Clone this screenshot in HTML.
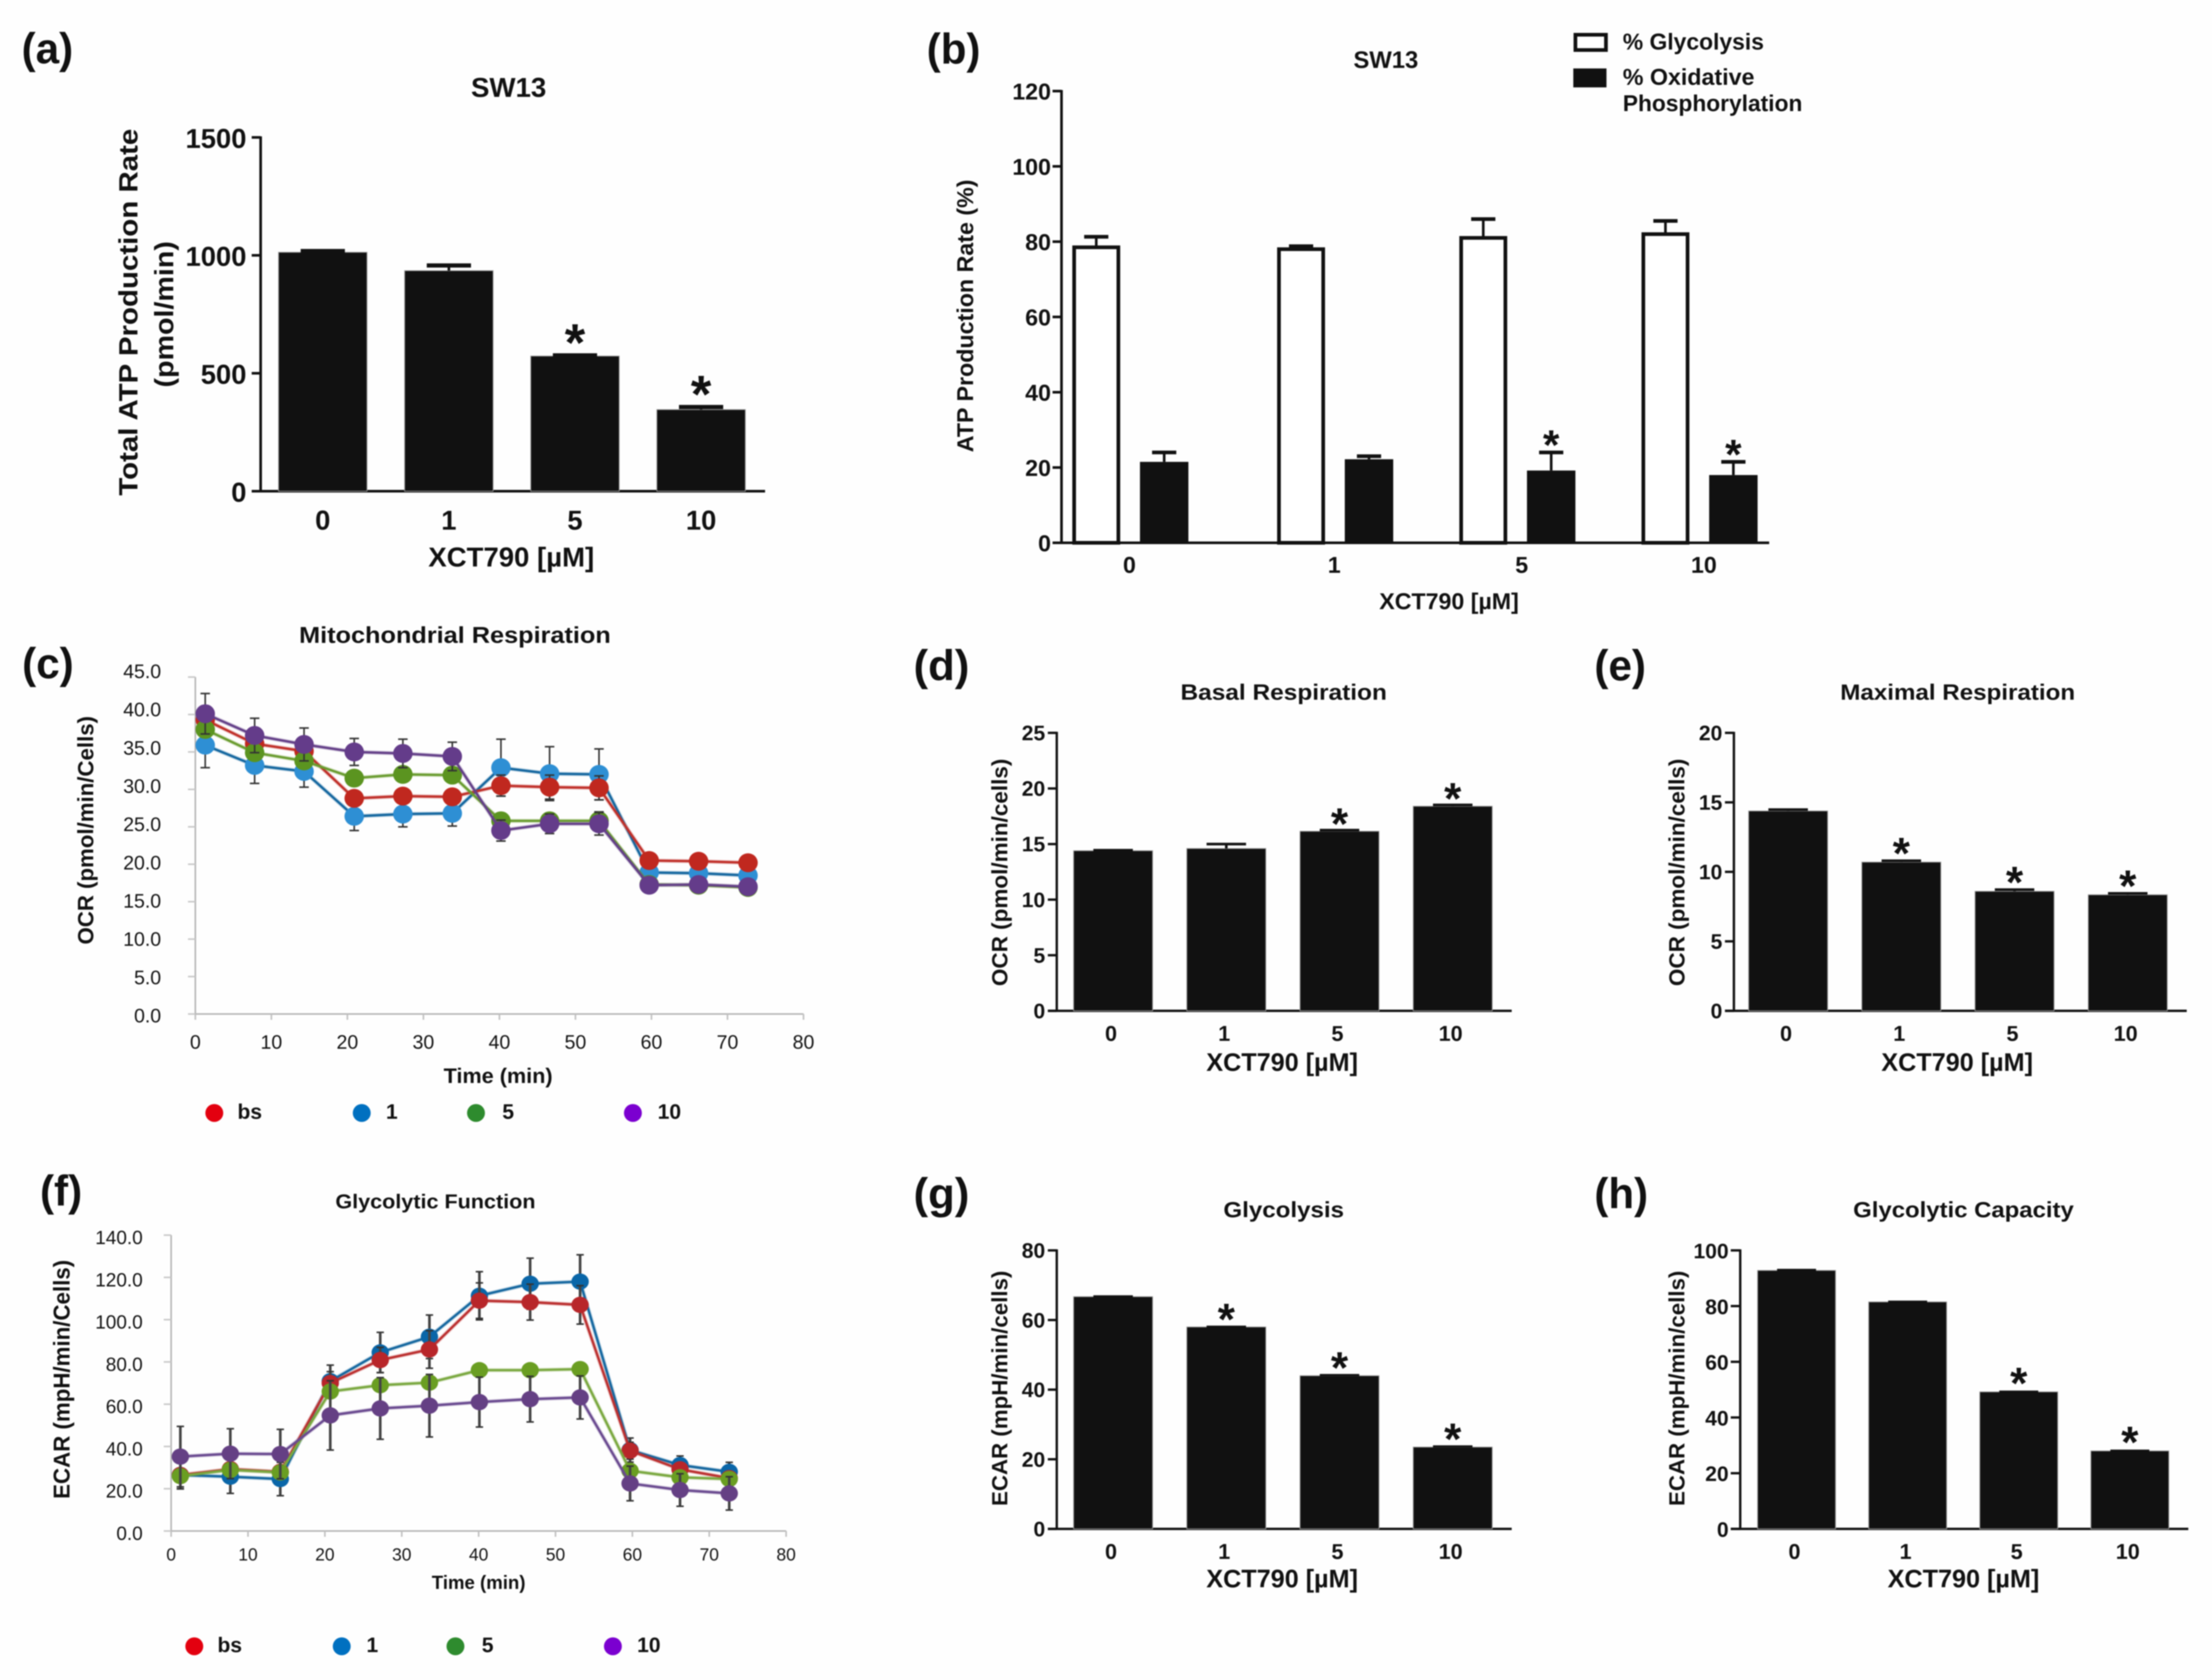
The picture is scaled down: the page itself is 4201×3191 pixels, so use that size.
<!DOCTYPE html>
<html>
<head>
<meta charset="utf-8">
<title>XCT790 SW13 metabolism panels</title>
<style>
html,body{margin:0;padding:0;background:#fff;width:4201px;height:3191px;overflow:hidden}
svg{display:block;filter:blur(1.1px)}
text{font-family:"Liberation Sans",Arial,sans-serif;fill:#111}
</style>
</head>
<body>
<svg id="figure" xmlns="http://www.w3.org/2000/svg" width="4201" height="3191" viewBox="0 0 4201 3191">
<rect width="4201" height="3191" fill="#fefefe"/>
<g id="panel-a"></g>
<g id="panel-b"></g>
<g id="panel-c"></g>
<g id="panel-d"></g>
<g id="panel-e"></g>
<g id="panel-f"></g>
<g id="panel-g"></g>
<g id="panel-h"></g>
</svg>
<script>
// ---------- shared categories ----------
const doseCategories = ['0','1','5','10'];

// ---------- panel a ----------
const aTicks = [0,500,1000,1500];
const aValues = [1013,935,573,346];
const aErrors = [1018,957,576,357];
const aSignificant = [false,false,true,true];

// ---------- panel b ----------
const bTicks = [0,20,40,60,80,100,120];
const bGlycolysis = [78.5,78,81,82];
const bGlycolysisErr = [81.3,78.8,86,85.5];
const bOxphos = [21.5,22.2,19.2,18];
const bOxphosErr = [24,23,24,21.5];
const bSignificant = [false,false,true,true];

// ---------- panel d ----------
const dTicks = [0,5,10,15,20,25];
const dValues = [14.4,14.6,16.15,18.4];
const dErrors = [14.45,15,16.25,18.52];
const dSignificant = [false,false,true,true];

// ---------- panel e ----------
const eTicks = [0,5,10,15,20];
const eValues = [14.38,10.7,8.6,8.35];
const eErrors = [14.48,10.8,8.72,8.45];
const eSignificant = [false,true,true,true];

// ---------- panel g ----------
const gTicks = [0,20,40,60,80];
const gValues = [66.7,58,44,23.5];
const gErrors = [66.8,58.1,44.2,23.7];
const gSignificant = [false,true,true,true];

// ---------- panel h ----------
const hTicks = [0,20,40,60,80,100];
const hValues = [92.8,81.5,49.2,28];
const hErrors = [93,81.6,49.3,28.1];
const hSignificant = [false,false,true,true];

// ---------- panel c ----------
const cTime = [1.3,7.8,14.3,20.9,27.3,33.8,40.2,46.6,53.1,59.7,66.2,72.7];
const cXTicks = [0,10,20,30,40,50,60,70,80];
const cYTicks = [0,5,10,15,20,25,30,35,40,45];
const cBs = [39.3,36.1,35.1,28.8,29.1,29,30.5,30.3,30.2,20.5,20.4,20.2];
const cBsErr = [0.6,0.6,0.6,0.6,0.6,0.6,1.4,1.6,1.6,0.4,0.4,0.4];
const cOne = [35.9,33.2,32.4,26.4,26.7,26.8,32.9,32.1,32,18.9,18.8,18.5];
const cOneErr = [3,2.4,2.1,1.9,1.7,1.7,3.8,3.6,3.4,0.5,0.5,0.5];
const cFive = [38,34.9,33.8,31.5,32,31.9,25.8,25.8,25.8,17.3,17.2,16.9];
const cFiveErr = [0.6,0.6,0.6,0.6,0.6,0.6,0.8,0.8,1.2,0.4,0.4,0.4];
const cTen = [40.1,37.2,36,35,34.8,34.4,24.5,25.4,25.4,17.2,17.3,17];
const cTenErr = [2.7,2.3,2.2,1.8,1.9,1.9,1.4,1.3,1.5,0.5,0.5,0.5];

// ---------- panel f ----------
const fTime = [1.2,7.7,14.2,20.7,27.2,33.6,40.1,46.7,53.2,59.7,66.2,72.6];
const fXTicks = [0,10,20,30,40,50,60,70,80];
const fYTicks = [0,20,40,60,80,100,120,140];
const fBs = [26.5,29.3,28,70,80.9,85.9,109,108.3,107,38,29.2,25];
const fBsErr = [6.5,3,3,5.4,6,8.9,8.4,8.5,9.1,4,3,2];
const fOne = [26.5,25.7,24.6,70.9,84.5,91.9,111.3,117,118,38.3,31.2,28];
const fOneErr = [6.6,7.9,7.9,7.6,9.5,10.3,11.4,12.1,12.7,5.7,4.3,4.5];
const fFive = [26,28.9,27.7,66,69,70.2,76.1,76.1,76.6,28.5,25.4,24.6];
const fFiveErr = [2,2,2,2,2,2,2,2,2,2,2,2];
const fTen = [35.2,36.6,36.4,54.7,58,59.3,61,62.4,63.2,22.5,19.4,17.8];
const fTenErr = [14.3,11.8,11.7,16.4,14.6,14.8,11.8,10.8,10.2,8.2,7.7,7.9];

const seriesLabels = ['bs','1','5','10'];

// ---------- drawing helpers ----------
const NS = 'http://www.w3.org/2000/svg';
function make(parent, tag, attrs) {
  const n = document.createElementNS(NS, tag);
  for (const k in attrs) n.setAttribute(k, attrs[k]);
  parent.appendChild(n);
  return n;
}
function label(parent, str, x, y, size, name, o) {
  o = o || {};
  const a = {x:x, y:y, 'font-size':size, 'font-weight':o.weight||'bold', 'text-anchor':o.anchor||'middle'};
  if (o.len) { a.textLength = o.len; a.lengthAdjust = 'spacingAndGlyphs'; }
  if (o.rot) a.transform = 'rotate(-90 ' + x + ' ' + y + ')';
  const t = make(parent, 'text', a);
  t.textContent = str;
  
  
  return t;
}
function vline(parent, x, y1, y2, w, color, name) {
  const l = make(parent, 'line', {x1:x, x2:x, y1:y1, y2:y2, stroke:color, 'stroke-width':w});
  
  
  return l;
}
function hline(parent, y, x1, x2, w, color, name) {
  const l = make(parent, 'line', {x1:x1, x2:x2, y1:y, y2:y, stroke:color, 'stroke-width':w});
  
  
  return l;
}
function star(parent, cx, cy, size) {
  const t = make(parent, 'text', {x:cx, y:cy + size*0.45, 'font-size':size, 'font-weight':'bold', 'text-anchor':'middle'});
  t.textContent = '*';
  
  
}

// value axis shared by all bar panels
function valueAxis(g, c) {
  const y = v => c.y0 - v / c.max * (c.y0 - c.yTop);
  vline(g, c.axisX, c.yTop - 2, c.y0 + 2, c.axisW, '#111', 'y-axis-line');
  hline(g, c.y0, c.xLeft, c.xRight, c.axisW, '#111', 'x-axis-line');
  c.ticks.forEach(v => {
    hline(g, y(v), c.xLeft, c.axisX, c.axisW, '#111', 'y-tick');
    label(g, String(v), c.labelRight, y(v) + c.labelDy, c.tickSize, 'y-tick-label', {anchor:'end'});
  });
  return y;
}

function errorBar(g, cx, yVal, yErr, capW, w, capH) {
  vline(g, cx, yVal, yErr, w, '#111', 'error-bar');
  hline(g, yErr, cx - capW/2, cx + capW/2, capH, '#111', 'error-cap');
}

function barPanel(g, c) {
  const y = valueAxis(g, c);
  c.cats.forEach((cat, i) => {
    const left = c.barLeft + i * c.barStep;
    const cx = left + c.barW / 2;
    const r = make(g, 'rect', {x:left, y:y(c.vals[i]), width:c.barW, height:c.y0 - y(c.vals[i]), fill:'#111', stroke:'#999', 'stroke-width':1.5});
    
    
    errorBar(g, cx, y(c.vals[i]), y(c.errs[i]), c.barW / 2, 5, c.capH);
    if (c.sig[i]) star(g, cx, y(c.errs[i]) - c.starGap, c.starSize);
    label(g, cat, cx + (c.catShift || 0), c.catBase, c.catSize || c.tickSize, 'x-tick-label');
  });
  label(g, c.title, c.titleX, c.titleBase, c.titleSize, 'chart-title', {len:c.titleLen});
  label(g, 'XCT790 [\u00B5M]', c.xTitleX, c.xTitleBase, c.xTitleSize, 'x-axis-title', {len:c.xTitleLen});
  c.yTitles.forEach(t => {
    label(g, t.text, t.x, t.y, t.size, 'y-axis-title', {rot:true, len:t.len});
  });
  label(g, c.tag, c.tagX, c.tagBase, 82, 'panel-letter', {anchor:'start', len:c.tagLen});
}

function linePanel(g, c) {
  const x = v => c.x0 + v / c.xMax * (c.x1 - c.x0);
  const y = v => c.y0 - v / c.yMax * (c.y0 - c.yTop);
  vline(g, c.x0, c.yTop, c.y0, 3, '#b5b5b5', 'y-axis-line');
  hline(g, c.y0, c.x0, c.x1, 3, '#b5b5b5', 'x-axis-line');
  c.yTicks.forEach(v => {
    hline(g, y(v), c.x0 - 14, c.x0, 3, '#c8c8c8', 'y-tick');
    const drift = c.driftTop + (c.driftBottom - c.driftTop) * (1 - v / c.yMax);
    label(g, v.toFixed(1), c.labelRight, y(v) + drift, c.tickSize, 'y-tick-label', {anchor:'end', weight:'normal'});
  });
  c.xTicks.forEach(v => {
    vline(g, x(v), c.y0, c.y0 + 11, 3, '#c0c0c0', 'x-tick');
    label(g, String(v), x(v), c.xLabelBase, c.xTickSize, 'x-tick-label', {weight:'normal'});
  });
  c.series.forEach(s => {
    const sg = make(g, 'g', {});
    
    
    c.time.forEach((t, i) => {
      vline(sg, x(t), y(s.vals[i] - s.errs[i]), y(s.vals[i] + s.errs[i]), c.whiskW, c.whiskColor, 'error-bar');
      hline(sg, y(s.vals[i] + s.errs[i]), x(t) - c.capW/2, x(t) + c.capW/2, 3, '#333', 'error-cap');
      hline(sg, y(s.vals[i] - s.errs[i]), x(t) - c.capW/2, x(t) + c.capW/2, 3, '#333', 'error-cap');
    });
    const pts = c.time.map((t, i) => x(t) + ',' + y(s.vals[i])).join(' ');
    const halo = make(sg, 'polyline', {points:pts, fill:'none', stroke:s.line, 'stroke-opacity':0.25, 'stroke-width':8});
    
    
    const pl = make(sg, 'polyline', {points:pts, fill:'none', stroke:s.line, 'stroke-width':4.5});
    
    
    c.time.forEach((t, i) => {
      const m = make(sg, 'ellipse', {cx:x(t), cy:y(s.vals[i]), rx:c.rx, ry:c.ry, fill:s.marker});
      
      
    });
  });
  label(g, c.title, c.titleX, c.titleBase, c.titleSize, 'chart-title', {len:c.titleLen});
  label(g, 'Time (min)', c.xTitleX, c.xTitleBase, c.xTitleSize, 'x-axis-title', {len:c.xTitleLen});
  label(g, c.yTitle, c.yTitleX, c.yTitleY, c.yTitleSize, 'y-axis-title', {rot:true, len:c.yTitleLen});
  label(g, c.tag, c.tagX, c.tagBase, 82, 'panel-letter', {anchor:'start', len:c.tagLen});
  const legendColors = ['#e3000f','#0070c0','#2e8b2e','#7b00d0'];
  seriesLabels.forEach((name, i) => {
    const d = make(g, 'ellipse', {cx:c.legendDot[i], cy:c.legendY, rx:17, ry:17, fill:legendColors[i]});
    
    
    label(g, name, c.legendText[i], c.legendBase, 40, 'legend-label', {anchor:'start'});
  });
}

// ---------- panel a ----------
barPanel(document.getElementById('panel-a'), {
  tag:'(a)', tagX:41, tagBase:120, tagLen:98,
  cats:doseCategories, vals:aValues, errs:aErrors, sig:aSignificant, ticks:aTicks, max:1500,
  y0:933, yTop:261, axisX:495, xLeft:478, xRight:1453, axisW:5, labelRight:468, labelDy:20, tickSize:52,
  barLeft:529, barStep:239.5, barW:168, catBase:1006, starGap:35, starSize:100, capH:8,
  title:'SW13', titleX:966, titleBase:184, titleSize:52, titleLen:143,
  xTitleX:971, xTitleBase:1076, xTitleSize:52, xTitleLen:315,
  yTitles:[
    {text:'Total ATP Production Rate', x:261, y:593, size:50, len:697},
    {text:'(pmol/min)', x:329, y:597, size:50, len:278}
  ]
});

// ---------- panel b ----------
(function () {
  const g = document.getElementById('panel-b');
  const c = {axisX:2016, y0:1031, yTop:173, max:120, xLeft:1999, xRight:3360, axisW:5, labelRight:1996, labelDy:16, tickSize:44, ticks:bTicks};
  const y = valueAxis(g, c);
  const groupLeft = i => 2037 + 346 * i + (i > 0 ? 43 : 0);
  doseCategories.forEach((cat, i) => {
    const wx = groupLeft(i);
    const bx = wx + 128;
    const wr = make(g, 'rect', {x:wx + 3, y:y(bGlycolysis[i]), width:84, height:c.y0 - y(bGlycolysis[i]), fill:'#fff', stroke:'#111', 'stroke-width':7});
    
    
    errorBar(g, wx + 45, y(bGlycolysis[i]), y(bGlycolysisErr[i]), 46, 5, 7);
    const br = make(g, 'rect', {x:bx, y:y(bOxphos[i]), width:92, height:c.y0 - y(bOxphos[i]), fill:'#111'});
    
    
    errorBar(g, bx + 46, y(bOxphos[i]), y(bOxphosErr[i]), 46, 5, 7);
    if (bSignificant[i]) star(g, bx + 46, y(bOxphosErr[i]) - 23, 80);
    const labelShift = i >= 2 ? 10 : 0;
    label(g, cat, wx + 108 + labelShift, 1088, 44, 'x-tick-label');
  });
  label(g, '(b)', 1760, 121, 82, 'panel-letter', {anchor:'start', len:102});
  label(g, 'SW13', 2632, 129, 45, 'chart-title', {len:123});
  label(g, 'XCT790 [\u00B5M]', 2752, 1157, 44, 'x-axis-title', {len:265});
  label(g, 'ATP Production Rate (%)', 1848, 600, 44, 'y-axis-title', {rot:true, len:518});
  const lw = make(g, 'rect', {x:2992, y:66, width:58, height:29, fill:'#fff', stroke:'#111', 'stroke-width':7});
  
  
  const lb = make(g, 'rect', {x:2988, y:130, width:63, height:36, fill:'#111'});
  
  
  label(g, '% Glycolysis', 3082, 94, 44, 'legend-label', {anchor:'start', len:268});
  label(g, '% Oxidative', 3082, 161, 44, 'legend-label', {anchor:'start', len:250});
  label(g, 'Phosphorylation', 3082, 211, 44, 'legend-label', {anchor:'start', len:341});
})();

// ---------- panel c ----------
linePanel(document.getElementById('panel-c'), {
  tag:'(c)', tagX:42, tagBase:1288, tagLen:98,
  time:cTime, xTicks:cXTicks, yTicks:cYTicks, xMax:80, yMax:45,
  x0:371, x1:1526, y0:1926, yTop:1286,
  labelRight:306, tickSize:37, xTickSize:37, driftTop:2, driftBottom:16, xLabelBase:1992,
  rx:18.5, ry:18, whiskW:3, whiskColor:'#333', capW:18,
  series:[
    {name:'1', vals:cOne, errs:cOneErr, line:'#15679f', marker:'#2e8fd4'},
    {name:'bs', vals:cBs, errs:cBsErr, line:'#c0302a', marker:'#c0281f'},
    {name:'5', vals:cFive, errs:cFiveErr, line:'#6a9c30', marker:'#5b9420'},
    {name:'10', vals:cTen, errs:cTenErr, line:'#644088', marker:'#643c8a'}
  ],
  title:'Mitochondrial Respiration', titleX:864, titleBase:1221, titleSize:44, titleLen:592,
  xTitleX:946, xTitleBase:2057, xTitleSize:40, xTitleLen:207,
  yTitle:'OCR (pmol/min/Cells)', yTitleX:177, yTitleY:1577, yTitleSize:42, yTitleLen:434,
  legendDot:[407,687,904,1202], legendText:[451,733,954,1249], legendY:2114, legendBase:2125
});

// ---------- panel f ----------
linePanel(document.getElementById('panel-f'), {
  tag:'(f)', tagX:76, tagBase:2290, tagLen:80,
  time:fTime, xTicks:fXTicks, yTicks:fYTicks, xMax:80, yMax:140,
  x0:325, x1:1493, y0:2908, yTop:2346,
  labelRight:271, tickSize:36, xTickSize:33, driftTop:17, driftBottom:17, xLabelBase:2964,
  rx:16.5, ry:15.5, whiskW:5, whiskColor:'#444', capW:14,
  series:[
    {name:'1', vals:fOne, errs:fOneErr, line:'#15679f', marker:'#0a66a8'},
    {name:'bs', vals:fBs, errs:fBsErr, line:'#bb3030', marker:'#b8262a'},
    {name:'5', vals:fFive, errs:fFiveErr, line:'#7aa840', marker:'#6a9e22'},
    {name:'10', vals:fTen, errs:fTenErr, line:'#6a4a90', marker:'#654084'}
  ],
  title:'Glycolytic Function', titleX:827, titleBase:2295, titleSize:38, titleLen:380,
  xTitleX:909, xTitleBase:3018, xTitleSize:36, xTitleLen:178,
  yTitle:'ECAR (mpH/min/Cells)', yTitleX:132, yTitleY:2620, yTitleSize:44, yTitleLen:454,
  legendDot:[369,649,865,1164], legendText:[413,696,915,1210], legendY:3127, legendBase:3138
});

// ---------- panel d ----------
barPanel(document.getElementById('panel-d'), {
  tag:'(d)', tagX:1735, tagBase:1292, tagLen:106,
  cats:doseCategories, vals:dValues, errs:dErrors, sig:dSignificant, ticks:dTicks, max:25,
  y0:1920, yTop:1392, axisX:2007, xLeft:1990, xRight:2871, axisW:4.5, labelRight:1985, labelDy:14, tickSize:40,
  barLeft:2039, barStep:215, barW:150, catBase:1977, catShift:-4, catSize:41, starGap:21, starSize:84, capH:5,
  title:'Basal Respiration', titleX:2438, titleBase:1329, titleSize:42, titleLen:392,
  xTitleX:2435, xTitleBase:2034, xTitleSize:48, xTitleLen:288,
  yTitles:[{text:'OCR (pmol/min/cells)', x:1913, y:1657, size:42, len:432}]
});

// ---------- panel e ----------
barPanel(document.getElementById('panel-e'), {
  tag:'(e)', tagX:3028, tagBase:1292, tagLen:98,
  cats:doseCategories, vals:eValues, errs:eErrors, sig:eSignificant, ticks:eTicks, max:20,
  y0:1920, yTop:1392, axisX:3293, xLeft:3276, xRight:4153, axisW:4.5, labelRight:3271, labelDy:14, tickSize:40,
  barLeft:3321, barStep:215, barW:150, catBase:1977, catShift:-4, catSize:41, starGap:23, starSize:84, capH:5,
  title:'Maximal Respiration', titleX:3718, titleBase:1329, titleSize:42, titleLen:446,
  xTitleX:3717, xTitleBase:2034, xTitleSize:48, xTitleLen:288,
  yTitles:[{text:'OCR (pmol/min/cells)', x:3199, y:1657, size:42, len:432}]
});

// ---------- panel g ----------
barPanel(document.getElementById('panel-g'), {
  tag:'(g)', tagX:1735, tagBase:2295, tagLen:106,
  cats:doseCategories, vals:gValues, errs:gErrors, sig:gSignificant, ticks:gTicks, max:80,
  y0:2904, yTop:2375, axisX:2007, xLeft:1990, xRight:2871, axisW:4.5, labelRight:1985, labelDy:14, tickSize:40,
  barLeft:2039, barStep:215, barW:150, catBase:2961, catShift:-4, catSize:41, starGap:23, starSize:84, capH:4,
  title:'Glycolysis', titleX:2438, titleBase:2312, titleSize:42, titleLen:229,
  xTitleX:2435, xTitleBase:3015, xTitleSize:48, xTitleLen:288,
  yTitles:[{text:'ECAR (mpH/min/cells)', x:1913, y:2637, size:42, len:447}]
});

// ---------- panel h ----------
barPanel(document.getElementById('panel-h'), {
  tag:'(h)', tagX:3028, tagBase:2295, tagLen:102,
  cats:doseCategories, vals:hValues, errs:hErrors, sig:hSignificant, ticks:hTicks, max:100,
  y0:2904, yTop:2375, axisX:3305, xLeft:3287, xRight:4156, axisW:4.5, labelRight:3283, labelDy:15, tickSize:40,
  barLeft:3338, barStep:211, barW:148, catBase:2961, catShift:-4, catSize:41, starGap:25, starSize:84, capH:4,
  title:'Glycolytic Capacity', titleX:3729, titleBase:2312, titleSize:42, titleLen:419,
  xTitleX:3729, xTitleBase:3015, xTitleSize:48, xTitleLen:288,
  yTitles:[{text:'ECAR (mpH/min/cells)', x:3199, y:2637, size:42, len:447}]
});
</script>
</body>
</html>
